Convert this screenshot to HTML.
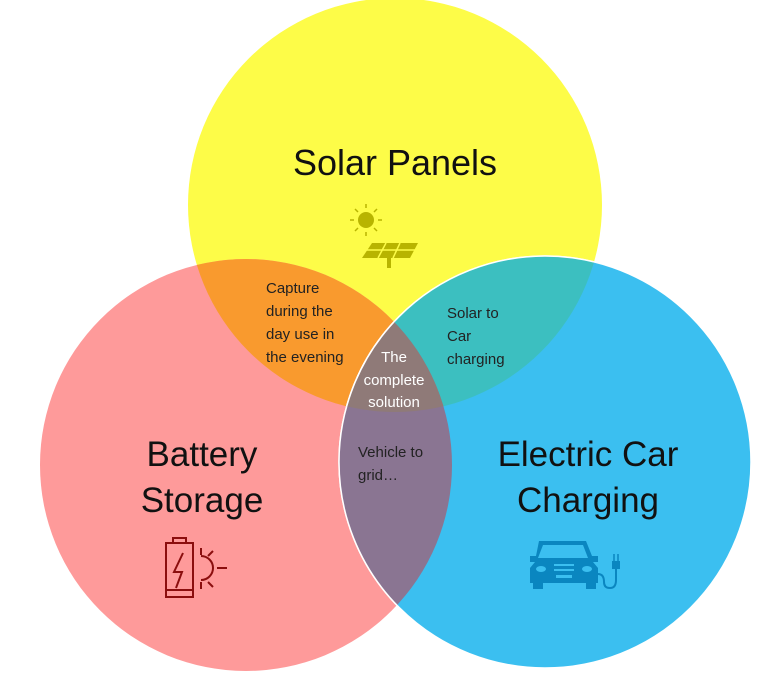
<!DOCTYPE html>
<html><head><style>
html,body{margin:0;padding:0;background:#fff;width:783px;height:675px;overflow:hidden}
svg text{font-family:"Liberation Sans","DejaVu Sans",sans-serif}
</style></head><body>
<svg width="783" height="675" viewBox="0 0 783 675" xmlns="http://www.w3.org/2000/svg">
<defs>
<clipPath id="cy"><circle cx="395" cy="205" r="207"/></clipPath>
<clipPath id="cr"><circle cx="246" cy="465" r="206"/></clipPath>
</defs>
<circle cx="395" cy="205" r="207" fill="#fdfc48"/>
<circle cx="246" cy="465" r="206" fill="#fe9a9a"/>
<circle cx="545" cy="462" r="206" fill="#3bbff0" stroke="#fff" stroke-width="1.5"/>
<g clip-path="url(#cy)"><circle cx="246" cy="465" r="206" fill="#f99a2e"/><circle cx="545" cy="462" r="206" fill="#3cbfc0" stroke="#fff" stroke-width="1.5"/></g>
<g clip-path="url(#cr)"><circle cx="545" cy="462" r="206" fill="#8a7592" stroke="#fff" stroke-width="1.5"/>
<g clip-path="url(#cy)"><circle cx="545" cy="462" r="206" fill="#8f7a78" stroke="#fff" stroke-width="1.5"/></g></g>

<text x="395" y="175" font-size="36" text-anchor="middle" fill="#111">Solar Panels</text>
<text x="202" y="466" font-size="35" text-anchor="middle" fill="#111">Battery</text>
<text x="202" y="512" font-size="35" text-anchor="middle" fill="#111">Storage</text>
<text x="588" y="466" font-size="35" text-anchor="middle" fill="#111">Electric Car</text>
<text x="588" y="512" font-size="35" text-anchor="middle" fill="#111">Charging</text>

<g font-size="15" fill="#222">
<text x="266" y="293">Capture</text><text x="266" y="316">during the</text><text x="266" y="339">day use in</text><text x="266" y="362">the evening</text>
<text x="447" y="318">Solar to</text><text x="447" y="341">Car</text><text x="447" y="364">charging</text>
<text x="358" y="457">Vehicle to</text><text x="358" y="480">grid…</text>
</g>
<g font-size="15" fill="#fff" text-anchor="middle">
<text x="394" y="362">The</text><text x="394" y="385">complete</text><text x="394" y="407">solution</text>
</g>

<!-- solar icon -->
<g fill="#b8b400" stroke="#b8b400">
<circle cx="366" cy="220" r="8" stroke="none"/>
<g stroke-width="1.5"><line x1="366" y1="204" x2="366" y2="208"/><line x1="366" y1="232" x2="366" y2="236"/><line x1="350" y1="220" x2="354" y2="220"/><line x1="378" y1="220" x2="382" y2="220"/><line x1="355" y1="209" x2="358" y2="212"/><line x1="374" y1="228" x2="377" y2="231"/><line x1="377" y1="209" x2="374" y2="212"/><line x1="355" y1="231" x2="358" y2="228"/></g>
<polygon points="372,243 418,243 410,258 362,258" stroke="none"/>
<rect x="387" y="258" width="4" height="10" stroke="none"/>
</g>
<g stroke="#fdfc48" stroke-width="1.5"><line x1="366" y1="250" x2="416" y2="250"/><line x1="386" y1="243" x2="378" y2="258"/><line x1="400" y1="243" x2="393" y2="258"/></g>

<!-- battery icon -->
<g fill="none" stroke="#8b0e0e" stroke-width="2">
<rect x="166" y="543" width="27" height="54"/><rect x="173" y="538" width="13" height="5"/>
<line x1="166" y1="590" x2="193" y2="590"/>
<polyline points="183,553 174,572 182,572 176,588" stroke-width="2"/>
<path d="M201,556 a12,12 0 0 1 0,24"/>
<line x1="201" y1="548" x2="201" y2="555"/><line x1="201" y1="582" x2="201" y2="589"/>
<line x1="208" y1="556" x2="213" y2="551"/><line x1="208" y1="582" x2="213" y2="587"/><line x1="217" y1="568" x2="227" y2="568"/>
</g>

<!-- car icon -->
<g fill="#0a86c0">
<path d="M539,541 L586,541 L592,556 L598,556 L598,562 L593,562 L598,568 L598,583 L530,583 L530,568 L535,562 L530,562 L530,556 L536,556 Z"/>
<rect x="533" y="583" width="10" height="6"/><rect x="586" y="583" width="10" height="6"/>
</g>
<path d="M543,545 L583,545 L588,558 L538,558 Z" fill="#3bbff0"/>
<g fill="#3bbff0"><ellipse cx="541" cy="569" rx="5" ry="3"/><ellipse cx="587" cy="569" rx="5" ry="3"/><rect x="554" y="564" width="20" height="2"/><rect x="554" y="569" width="20" height="2"/><rect x="556" y="575" width="16" height="3"/></g>
<path d="M598,574 q6,0 6,8 q0,6 6,6 q6,0 6,-8 l0,-12" fill="none" stroke="#0a86c0" stroke-width="2"/>
<rect x="612" y="561" width="8" height="8" fill="#0a86c0"/>
<line x1="614" y1="554" x2="614" y2="561" stroke="#0a86c0" stroke-width="1.5"/><line x1="618" y1="554" x2="618" y2="561" stroke="#0a86c0" stroke-width="1.5"/>
</svg>
</body></html>
